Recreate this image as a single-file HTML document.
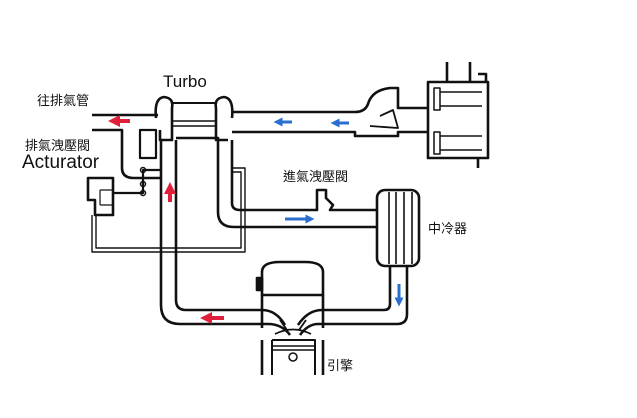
<!DOCTYPE html>
<html><head><meta charset="utf-8"><style>
html,body{margin:0;padding:0;background:#fff;}
svg{display:block}
text{font-family:"Liberation Sans","Noto Sans CJK TC",sans-serif;fill:#111}
</style></head><body>
<svg width="637" height="418" viewBox="0 0 637 418" xmlns="http://www.w3.org/2000/svg">
<defs>
<marker id="r" viewBox="0 0 10 10" refX="5" refY="5" markerWidth="3" markerHeight="3" orient="auto"><path d="M0,0L10,5L0,10z" fill="#e0203a"/></marker>
<marker id="b" viewBox="0 0 10 10" refX="5" refY="5" markerWidth="3" markerHeight="3" orient="auto"><path d="M0,0L10,5L0,10z" fill="#2a6fd0"/></marker>
</defs>
<g fill="none" stroke="#111" stroke-width="2.6" stroke-linejoin="round">
<!-- exhaust outlet -->
<path d="M92,115H158"/>
<path d="M92,130H122V168Q122,178 134,178H160"/>
<!-- turbo housings -->
<path d="M156,118Q154,98 164,97Q174,98 172,108V140H160V130"/>
<path d="M232,118Q234,98 224,97Q214,98 216,108V140H228"/>
<path d="M172,103H216" stroke-width="2"/>
<path d="M172,121H216M172,126H216" stroke-width="1.6"/>
<rect x="140" y="130" width="16" height="28" stroke-width="2.2"/>
<!-- intake top pipe -->
<path d="M232,112H355Q365,112 368,104Q372,90 390,88H398V108H428"/>
<path d="M232,132H355V136H398V132H428"/>
<rect x="428" y="82" width="60" height="76"/>
<path d="M447,82V62M470,82V62M478,74H486V82M478,158V168"/>
<rect x="434" y="88" width="6" height="22" stroke-width="1.5"/>
<rect x="434" y="132" width="6" height="22" stroke-width="1.5"/>
<path d="M440,92H482M440,106H482M440,136H482M440,150H482" stroke-width="1.5"/>
<path d="M380,116L393,110L398,128L370,126" stroke-width="1.8"/>
<!-- exhaust down pipe -->
<path d="M161,140V305Q161,324 180,324H268Q282,324 290,335"/>
<path d="M176,140V300Q176,310 186,310H262Q276,310 285,325"/>
<!-- intake down -->
<path d="M176,138H218V212Q218,227 234,227H378"/>
<path d="M232,140V203Q232,210 240,210H317V190H326V198L333,205L330,210H378"/>
<!-- intercooler -->
<rect x="377" y="190" width="42" height="76" rx="8"/>
<path d="M389,192V264M396,192V264M404,192V264M412,192V264" stroke-width="1.6"/>
<!-- intercooler to engine -->
<path d="M407,266V314Q407,324 397,324H318Q308,324 300,335"/>
<path d="M390,266V304Q390,310 384,310H322Q308,310 298,325"/>
<!-- engine -->
<path d="M262,295V272Q262,262 280,262H305Q323,262 323,272V295Z"/>
<rect x="257" y="278" width="5" height="12" fill="#111"/>
<path d="M262,295V328M323,295V328M262,340V375M323,340V375"/>
<path d="M272,340H315V375M272,340V375" stroke-width="2"/>
<path d="M272,346H315M272,350H315" stroke-width="1.4"/>
<circle cx="293" cy="357" r="4" stroke-width="1.5"/>
<path d="M280,320L287,330M306,320L299,330M275,334Q293,325 311,334" stroke-width="1.8"/>
<!-- wastegate rod + actuator -->
<path d="M88,178H113V215H95V200H88Z"/>
<path d="M100,190V205M100,190H112M100,205H112" stroke-width="1.2"/>
<path d="M113,193H143V170H160" stroke-width="2.2"/>
<circle cx="143" cy="170" r="2.5" stroke-width="1.5"/><circle cx="143" cy="184" r="2.5" stroke-width="1.5"/><circle cx="143" cy="193" r="2.5" stroke-width="1.5"/>
<!-- hose -->
<path d="M92,215V252H245V168H232" stroke-width="1.4"/>
<path d="M96,215V248H241V172H232" stroke-width="1.4"/>
</g>
<!-- arrows -->
<g stroke-width="4">
<line x1="130" y1="121" x2="114" y2="121" stroke="#e0203a" marker-end="url(#r)"/>
<line x1="170" y1="202" x2="170" y2="188" stroke="#e0203a" marker-end="url(#r)"/>
<line x1="224" y1="318" x2="206" y2="318" stroke="#e0203a" marker-end="url(#r)"/>
<line x1="292" y1="122" x2="278" y2="122" stroke="#2a6fd0" marker-end="url(#b)" stroke-width="3"/>
<line x1="349" y1="123" x2="335" y2="123" stroke="#2a6fd0" marker-end="url(#b)" stroke-width="3"/>
<line x1="285" y1="219" x2="310" y2="219" stroke="#2a6fd0" marker-end="url(#b)" stroke-width="3"/>
<line x1="399" y1="284" x2="399" y2="302" stroke="#2a6fd0" marker-end="url(#b)" stroke-width="3"/>
</g>
<text x="163" y="87" font-size="17">Turbo</text>
<text x="37" y="105" font-size="13">往排氣管</text>
<text x="25" y="150" font-size="13">排氣洩壓閥</text>
<text x="22" y="168" font-size="19">Acturator</text>
<text x="283" y="181" font-size="13">進氣洩壓閥</text>
<text x="428" y="233" font-size="13">中冷器</text>
<text x="327" y="370" font-size="13">引擎</text>
</svg>
</body></html>
